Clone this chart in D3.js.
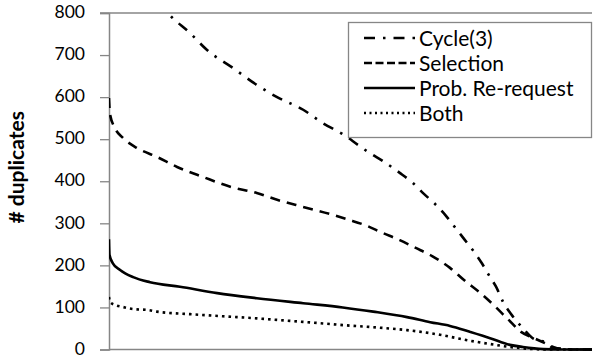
<!DOCTYPE html>
<html>
<head>
<meta charset="utf-8">
<script src="https://cdn.jsdelivr.net/npm/d3@7"></script>
<style>
  html, body { margin: 0; padding: 0; background: #fff; }
  svg { display: block; }
  text { font-family: Lato, "Open Sans", sans-serif; fill: #000; }
</style>
</head>
<body>
<svg id="chart" width="593" height="358"></svg>
<script>
// Duplicates per node, nodes ranked from most to fewest (rank in % of nodes)
const cycleRank = [0, 0.4, 2.3, 6.4, 12.2, 16.8, 20.3, 25.7, 30.6, 34.8, 40.2, 44.3, 48.7, 51.6, 54.0, 56.7, 60.2, 62.9, 65.2, 67.5, 69.6, 71.6, 73.7, 75.6, 77.2, 78.9, 80.1, 81.6, 83.2, 85.5, 87.6, 90.7, 91.9, 94.4, 97.5, 100];
const cycleDup  = [1150, 1060, 1000, 900, 800, 752, 712, 669, 629, 600, 570, 538, 510, 486, 467, 448, 420, 396, 370, 346, 320, 291, 260, 232, 205, 172, 150, 113, 85, 53, 28, 15, 4, 1, 0, 0];

const selectionRank = [0, 0.2, 1.2, 2.9, 5.8, 9.9, 14.1, 19.5, 25.1, 30.6, 34.8, 40.2, 45.8, 49.5, 53.4, 56.5, 60.2, 63.4, 66.9, 70.6, 73.5, 76.8, 79.7, 82.6, 85.3, 88.0, 90.3, 92.8, 96.5, 100];
const selectionDup  = [598, 560, 527, 503, 479, 458, 434, 410, 387, 372, 356, 339, 322, 309, 294, 278, 260, 242, 222, 194, 165, 135, 105, 72, 42, 27, 15, 3, 0, 0];

const reRequestRank = [0, 0.1, 0.8, 2.3, 5.0, 8.5, 14.7, 22.4, 30.6, 40.2, 48.4, 54.7, 61.7, 66.5, 70.6, 74.7, 78.9, 83.0, 85.7, 89.9, 93.4, 100];
const reRequestDup  = [262, 225, 205, 189, 172, 160, 149, 134, 122, 110, 100, 90, 77, 65, 56, 42, 27, 11, 6, 1, 0, 0];

const bothRank = [0, 0.2, 1.2, 2.9, 5.0, 7.9, 9.9, 16.8, 23.6, 30.6, 37.5, 44.3, 48.4, 54.7, 61.7, 68.5, 71.6, 74.7, 78.9, 83.0, 87.8, 91.3, 100];
const bothDup  = [125, 113, 106, 101, 96, 94, 90, 84, 79, 74, 68, 62, 58, 53, 46, 35, 28, 21, 13, 6, 1, 0, 0];

const seriesNames = ["Cycle(3)", "Selection", "Prob. Re-request", "Both"];
const yTicks = [0, 100, 200, 300, 400, 500, 600, 700, 800];
const yTitle = "# duplicates";

const series = [
  { name: seriesNames[0], rank: cycleRank, dup: cycleDup, dash: "11,8,2.5,8", legendDash: "11,8,2.5,8", width: 2.6 },
  { name: seriesNames[1], rank: selectionRank, dup: selectionDup, dash: "10,7", legendDash: "8,3.5", width: 2.6 },
  { name: seriesNames[2], rank: reRequestRank, dup: reRequestDup, dash: null, legendDash: null, width: 2.6 },
  { name: seriesNames[3], rank: bothRank, dup: bothDup, dash: "2.6,4", legendDash: "2,3.5", width: 2.6 }
];

const svg = d3.select("#chart");
const plotL = 109, plotR = 592, plotT = 13, plotB = 349.5;
const axisGray = "#868686";

const x = d3.scaleLinear().domain([0, 100]).range([plotL, plotR]);
const y = d3.scaleLinear().domain([0, 800]).range([plotB, plotT]);

// clip area for curves that run above the top of the value range
svg.append("defs").append("clipPath").attr("id", "plotClip")
  .append("rect").attr("x", plotL).attr("y", plotT).attr("width", plotR - plotL + 2).attr("height", plotB - plotT + 2);

// top border line of the plot
svg.append("line")
  .attr("x1", plotL - 9).attr("x2", plotR).attr("y1", y(800)).attr("y2", y(800))
  .attr("stroke", axisGray).attr("stroke-width", 1.3);

// y axis
const yAxis = d3.axisLeft(y).tickValues(yTicks).tickSize(9).tickPadding(15).tickFormat(d3.format("d"));
const gy = svg.append("g").attr("transform", `translate(${plotL},0)`).call(yAxis);
gy.select(".domain").attr("stroke", axisGray).attr("stroke-width", 1.5);
gy.selectAll(".tick line").attr("stroke", axisGray).attr("stroke-width", 1.3);
gy.selectAll(".tick text")
  .attr("font-size", 17.5).attr("dy", "0.27em")
  .attr("font-family", "Lato, sans-serif").attr("fill", "#000");

// x axis baseline (no tick labels)
svg.append("line")
  .attr("x1", plotL).attr("x2", plotR).attr("y1", y(0)).attr("y2", y(0))
  .attr("stroke", axisGray).attr("stroke-width", 1.5);

// y axis title
svg.append("text")
  .attr("transform", `translate(24,${(plotT + plotB) / 2 - 14}) rotate(-90)`)
  .attr("text-anchor", "middle")
  .attr("font-size", 21).attr("font-weight", "bold")
  .text(yTitle);

// curves
const line = d3.line()
  .x(d => x(d[0]))
  .y(d => y(d[1]))
  .curve(d3.curveMonotoneX);

const plot = svg.append("g").attr("clip-path", "url(#plotClip)");
series.forEach(s => {
  const pts = s.rank.map((r, i) => [r, s.dup[i]]);
  plot.append("path")
    .datum(pts)
    .attr("d", line)
    .attr("fill", "none")
    .attr("stroke", "#000")
    .attr("stroke-width", s.width)
    .attr("stroke-dasharray", s.dash)
    .attr("stroke-linejoin", "round");
});

// legend
const lg = svg.append("g").attr("transform", "translate(348,22)");
lg.append("rect")
  .attr("x", 0.5).attr("y", 0.5).attr("width", 243).attr("height", 115)
  .attr("fill", "#fff").attr("stroke", axisGray).attr("stroke-width", 1.3);
series.forEach((s, i) => {
  const cy = 16 + i * 25;
  lg.append("line")
    .attr("x1", 16).attr("x2", 67).attr("y1", cy).attr("y2", cy)
    .attr("stroke", "#000").attr("stroke-width", s.width)
    .attr("stroke-dasharray", s.legendDash);
  lg.append("text")
    .attr("x", 71).attr("y", cy)
    .attr("dy", "0.36em")
    .attr("font-size", 21)
    .text(s.name);
});
</script>
</body>
</html>
